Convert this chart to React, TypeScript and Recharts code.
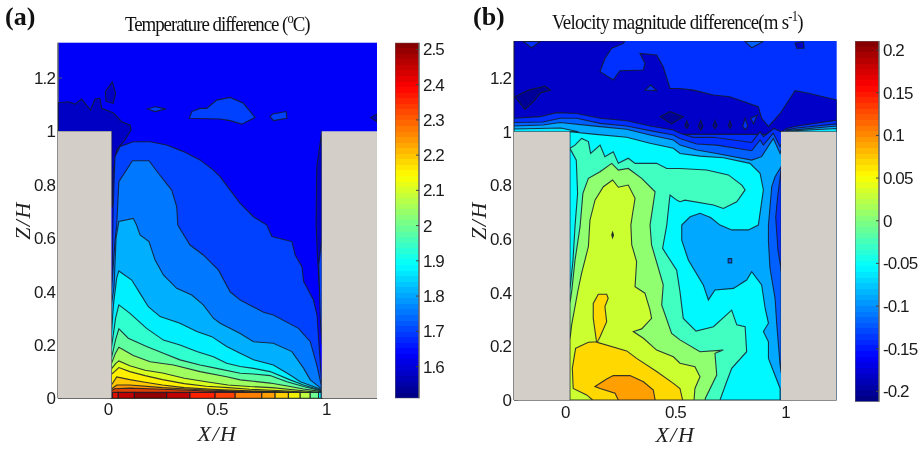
import { Bar, BarChart, Scatter, ScatterChart, XAxis, YAxis } from 'recharts'

type Pt = [number, number]

const X_TICKS = [0, 0.5, 1]
const Z_TICKS = [0, 0.2, 0.4, 0.6, 0.8, 1, 1.2]
const TEMP_TICKS = [1.6, 1.7, 1.8, 1.9, 2, 2.1, 2.2, 2.3, 2.4, 2.5]
const VEL_TICKS = [-0.2, -0.15, -0.1, -0.05, 0, 0.05, 0.1, 0.15, 0.2]
const TEMP_RANGE: Pt = [1.51, 2.519]
const VEL_RANGE: Pt = [-0.212, 0.2106]

// panel (a) contours, temperature difference
const A_LEFT_WALL: Pt[] = [[-0.229, 0], [0.016, 0], [0.016, 1], [-0.229, 1]]
const A_RIGHT_WALL: Pt[] = [[0.98, 0], [1.233, 0], [1.233, 1], [0.98, 1]]
const A_DARK: Pt[] = [[-0.228, 1.107], [-0.182, 1.111], [-0.151, 1.102], [-0.121, 1.121], [-0.08, 1.08], [-0.06, 1.12], [-0.037, 1.124], [-0.029, 1.086], [0.024, 1.07], [0.063, 1.036], [0.101, 1.024], [0.106, 1.005], [0.078, 0.968], [0.04, 0.93], [0.024, 0.843], [0.02, 0.718], [0.017, 0.718], [0.017, 0.999], [-0.228, 0.999]]
const A_BLOB_1: Pt[] = [[-0.012, 1.149], [0.02, 1.186], [0.035, 1.142], [0.024, 1.105], [-0.009, 1.113]]
const A_BLOB_2: Pt[] = [[0.18, 1.084], [0.216, 1.092], [0.265, 1.084], [0.216, 1.074]]
const A_BLOB_3: Pt[] = [[0.373, 1.049], [0.384, 1.074], [0.422, 1.086], [0.453, 1.086], [0.498, 1.117], [0.56, 1.127], [0.621, 1.105], [0.674, 1.052], [0.613, 1.027], [0.56, 1.04], [0.514, 1.046]]
const A_BLOB_4: Pt[] = [[0.743, 1.055], [0.755, 1.065], [0.817, 1.074], [0.82, 1.049], [0.759, 1.04]]
const A_BLOB_5: Pt[] = [[1.205, 1.052], [1.233, 1.064], [1.233, 1.036]]
const A_C1: Pt[] = [[0.016, 0.3], [0.024, 0.718], [0.032, 0.905], [0.055, 0.943], [0.116, 0.961], [0.193, 0.961], [0.269, 0.949], [0.346, 0.924], [0.422, 0.893], [0.483, 0.855], [0.514, 0.83], [0.56, 0.78], [0.606, 0.73], [0.667, 0.68], [0.728, 0.649], [0.751, 0.606], [0.843, 0.587], [0.858, 0.537], [0.889, 0.493], [0.897, 0.437], [0.942, 0.368], [0.958, 0.312], [0.981, 0.037], [0.98, 0], [0.016, 0]]
const A_C2: Pt[] = [[0.016, 0.4], [0.02, 0.45], [0.032, 0.587], [0.04, 0.649], [0.05, 0.811], [0.112, 0.89], [0.188, 0.89], [0.231, 0.843], [0.292, 0.78], [0.315, 0.718], [0.32, 0.649], [0.376, 0.574], [0.437, 0.537], [0.506, 0.481], [0.56, 0.399], [0.606, 0.368], [0.621, 0.362], [0.713, 0.322], [0.758, 0.312], [0.873, 0.262], [0.927, 0.212], [0.957, 0.125], [0.977, 0.05], [0.98, 0], [0.016, 0]]
const A_C3: Pt[] = [[0.016, 0.35], [0.028, 0.42], [0.037, 0.6], [0.05, 0.662], [0.116, 0.674], [0.131, 0.649], [0.147, 0.612], [0.188, 0.587], [0.216, 0.518], [0.254, 0.462], [0.315, 0.412], [0.384, 0.387], [0.437, 0.35], [0.483, 0.3], [0.514, 0.281], [0.606, 0.243], [0.667, 0.212], [0.758, 0.206], [0.843, 0.175], [0.897, 0.112], [0.927, 0.069], [0.977, 0.037], [0.98, 0], [0.016, 0]]
const A_C4: Pt[] = [[0.016, 0.24], [0.025, 0.35], [0.04, 0.45], [0.05, 0.477], [0.109, 0.443], [0.147, 0.393], [0.185, 0.343], [0.239, 0.306], [0.33, 0.281], [0.407, 0.25], [0.476, 0.231], [0.544, 0.194], [0.606, 0.169], [0.667, 0.144], [0.758, 0.125], [0.835, 0.087], [0.881, 0.062], [0.972, 0.035], [0.98, 0], [0.016, 0]]
const A_C5: Pt[] = [[0.016, 0.19], [0.035, 0.3], [0.05, 0.35], [0.101, 0.318], [0.177, 0.262], [0.254, 0.218], [0.33, 0.2], [0.407, 0.175], [0.483, 0.156], [0.544, 0.131], [0.606, 0.119], [0.667, 0.112], [0.743, 0.1], [0.835, 0.069], [0.896, 0.05], [0.972, 0.031], [0.98, 0], [0.016, 0]]
const A_C6: Pt[] = [[0.016, 0.15], [0.035, 0.22], [0.05, 0.26], [0.093, 0.225], [0.177, 0.194], [0.254, 0.169], [0.33, 0.144], [0.422, 0.125], [0.498, 0.112], [0.606, 0.094], [0.667, 0.091], [0.743, 0.085], [0.82, 0.062], [0.896, 0.044], [0.972, 0.029], [0.98, 0], [0.016, 0]]
const A_C7: Pt[] = [[0.016, 0.13], [0.035, 0.17], [0.05, 0.191], [0.116, 0.16], [0.193, 0.137], [0.3, 0.125], [0.422, 0.1], [0.544, 0.081], [0.606, 0.069], [0.743, 0.057], [0.835, 0.044], [0.896, 0.035], [0.972, 0.026], [0.98, 0], [0.016, 0]]
const A_C8: Pt[] = [[0.016, 0.11], [0.035, 0.13], [0.05, 0.14], [0.1, 0.122], [0.17, 0.105], [0.25, 0.095], [0.35, 0.075], [0.45, 0.062], [0.55, 0.05], [0.65, 0.044], [0.75, 0.04], [0.85, 0.032], [0.97, 0.022], [0.98, 0], [0.016, 0]]
const A_C9: Pt[] = [[0.016, 0.09], [0.03, 0.1], [0.05, 0.115], [0.1, 0.1], [0.17, 0.085], [0.25, 0.07], [0.35, 0.055], [0.45, 0.045], [0.55, 0.04], [0.65, 0.034], [0.75, 0.03], [0.85, 0.026], [0.97, 0.018], [0.98, 0], [0.016, 0]]
const A_C10: Pt[] = [[0.016, 0.05], [0.04, 0.08], [0.1, 0.07], [0.17, 0.06], [0.25, 0.05], [0.35, 0.04], [0.5, 0.033], [0.65, 0.028], [0.8, 0.024], [0.97, 0.014], [0.98, 0], [0.016, 0]]
const A_C11: Pt[] = [[0.016, 0.035], [0.04, 0.05], [0.1, 0.05], [0.25, 0.04], [0.4, 0.033], [0.55, 0.028], [0.7, 0.024], [0.85, 0.02], [0.97, 0.01], [0.98, 0], [0.016, 0]]
const A_C12: Pt[] = [[0.016, 0.028], [0.03, 0.036], [0.1, 0.038], [0.25, 0.034], [0.4, 0.029], [0.5, 0.026], [0.62, 0.024], [0.7, 0], [0.016, 0]]
const A_RIGHT_DARK: Pt[] = [[0.98, 1], [0.957, 0.867], [0.954, 0.649], [0.961, 0.52], [0.981, 0.27]]
const A_RIGHT_BAND: Pt[] = [[0.981, 0.6], [0.966, 0.5], [0.973, 0.3], [0.981, 0.2]]
const A_FLOOR_X = [0.021, 0.047, 0.121, 0.269, 0.376, 0.491, 0.583, 0.705, 0.766, 0.827, 0.881, 0.927, 0.965, 0.977]
const A_FLOOR_TOP = 0.022
const A_FLOOR_FILLS = ['#e01000', '#c00000', '#900000', '#c00000', '#ff2000', '#ff4000', '#ff8000', '#ffa000', '#ffd000', '#f0f000', '#c0ff40', '#70ff90', '#00f0ff']

// panel (b) contours, velocity magnitude difference
const B_LEFT_WALL: Pt[] = [[-0.233, 0], [0.02, 0], [0.02, 1], [-0.233, 1]]
const B_RIGHT_WALL: Pt[] = [[0.98, 0], [1.233, 0], [1.233, 1], [0.98, 1]]
const B_DARK: Pt[] = [[-0.233, 1.338], [0.27, 1.338], [0.264, 1.329], [0.211, 1.311], [0.18, 1.273], [0.158, 1.224], [0.218, 1.193], [0.248, 1.227], [0.355, 1.23], [0.362, 1.255], [0.339, 1.292], [0.415, 1.286], [0.445, 1.242], [0.476, 1.161], [0.521, 1.161], [0.582, 1.155], [0.673, 1.137], [0.748, 1.13], [0.877, 1.093], [0.892, 1.05], [0.923, 1.019], [0.976, 1.068], [1.044, 1.153], [1.105, 1.143], [1.233, 1.118], [1.233, 0.99], [-0.233, 0.99]]
const B_TOP_LOBE_1: Pt[] = [[-0.191, 1.336], [-0.153, 1.313], [-0.115, 1.336]]
const B_TOP_LOBE_2: Pt[] = [[0.817, 1.336], [0.847, 1.313], [0.9, 1.336]]
const B_TOP_LOBE_3: Pt[] = [[1.044, 1.33], [1.082, 1.335], [1.085, 1.311], [1.052, 1.311]]
const B_DEEP_1: Pt[] = [[-0.229, 1.13], [-0.168, 1.155], [-0.092, 1.17], [-0.067, 1.155], [-0.115, 1.143], [-0.138, 1.118], [-0.183, 1.083]]
const B_DEEP_2: Pt[] = [[0.43, 1.056], [0.476, 1.075], [0.536, 1.056], [0.483, 1.029]]
const B_TRIANGLE_1: Pt[] = [[0.362, 1.155], [0.388, 1.174], [0.415, 1.153]]
const B_TRIANGLE_2: Pt[] = [[0.842, 1.05], [0.872, 1.062], [0.855, 1.03]]
const B_DROP_1: Pt[] = [[0.552, 1.04], [0.56, 1.022], [0.552, 1.012], [0.544, 1.022]]
const B_DROP_2: Pt[] = [[0.615, 1.042], [0.625, 1.02], [0.615, 1.006], [0.605, 1.02]]
const B_DROP_3: Pt[] = [[0.68, 1.042], [0.689, 1.022], [0.68, 1.012], [0.671, 1.022]]
const B_DROP_4: Pt[] = [[0.748, 1.04], [0.755, 1.022], [0.748, 1.012], [0.741, 1.022]]
const B_DROP_5: Pt[] = [[0.817, 1.05], [0.83, 1.02], [0.817, 1.008], [0.806, 1.02]]
const B_LINE_1: Pt[] = [[-0.233, 1.05], [-0.115, 1.056], [-0.039, 1.071], [0.052, 1.068], [0.158, 1.05], [0.279, 1.041], [0.385, 1.021], [0.491, 1.006], [0.521, 0.994], [0.582, 0.979], [0.673, 0.979], [0.847, 0.96], [0.885, 1], [0.9, 0.981], [0.948, 1.012], [0.981, 0.999], [1.006, 1.012], [1.052, 1.021], [1.233, 1.043], [1.233, 0], [-0.233, 0]]
const B_LINE_2: Pt[] = [[-0.233, 1.034], [-0.1, 1.036], [-0.024, 1.05], [0.052, 1.05], [0.158, 1.031], [0.279, 1.021], [0.385, 1.004], [0.491, 0.988], [0.521, 0.975], [0.597, 0.954], [0.688, 0.95], [0.847, 0.929], [0.885, 0.969], [0.9, 0.95], [0.945, 0.994], [0.976, 0.944], [1.006, 1.006], [1.052, 1.014], [1.233, 1.029], [1.233, 0], [-0.233, 0]]
const B_LINE_3: Pt[] = [[-0.233, 1.021], [-0.1, 1.025], [-0.024, 1.034], [0.158, 1.019], [0.279, 1.009], [0.385, 0.988], [0.491, 0.969], [0.521, 0.95], [0.597, 0.932], [0.688, 0.919], [0.847, 0.894], [0.892, 0.907], [0.945, 0.975], [0.976, 0.919], [1.006, 1.004], [1.233, 1.021], [1.233, 0], [-0.233, 0]]
const B_RIM_LEFT: Pt[] = [[-0.233, 1.01], [-0.02, 1.014], [0.06, 1], [-0.233, 1]]
const B_RIM_RIGHT: Pt[] = [[0.98, 1], [1.05, 1.004], [1.233, 1.012], [1.233, 1]]
const B_CYAN: Pt[] = [[0.021, 1], [0.127, 0.991], [0.279, 0.979], [0.385, 0.957], [0.491, 0.938], [0.521, 0.919], [0.612, 0.909], [0.718, 0.903], [0.839, 0.882], [0.885, 0.845], [0.9, 0.783], [0.877, 0.652], [0.832, 0.634], [0.756, 0.634], [0.703, 0.652], [0.66, 0.68], [0.612, 0.696], [0.567, 0.683], [0.529, 0.652], [0.529, 0.596], [0.559, 0.522], [0.627, 0.429], [0.65, 0.373], [0.68, 0.41], [0.764, 0.416], [0.824, 0.447], [0.847, 0.478], [0.892, 0.429], [0.908, 0.342], [0.923, 0.286], [0.9, 0.255], [0.923, 0.217], [0.923, 0.155], [0.976, 0.043], [0.976, 0], [0.021, 0]]
const B_WALL_1: Pt[] = [[0.981, 0.87], [0.953, 0.832], [0.938, 0.795], [0.923, 0.652], [0.923, 0.59], [0.93, 0.491], [0.953, 0.379], [0.961, 0.28], [0.976, 0.13], [0.981, 0.1]]
const B_WALL_2: Pt[] = [[0.981, 0.86], [0.965, 0.76], [0.956, 0.68], [0.966, 0.56], [0.978, 0.5], [0.981, 0.48]]
const B_TEAL: Pt[] = [[0.021, 0.938], [0.044, 0.95], [0.074, 0.975], [0.105, 0.963], [0.115, 0.919], [0.158, 0.95], [0.18, 0.907], [0.218, 0.925], [0.241, 0.882], [0.286, 0.901], [0.317, 0.882], [0.415, 0.882], [0.461, 0.863], [0.521, 0.863], [0.642, 0.857], [0.741, 0.839], [0.802, 0.801], [0.817, 0.783], [0.779, 0.739], [0.718, 0.714], [0.673, 0.727], [0.544, 0.745], [0.521, 0.739], [0.506, 0.745], [0.476, 0.764], [0.473, 0.745], [0.461, 0.652], [0.442, 0.565], [0.506, 0.484], [0.521, 0.404], [0.536, 0.304], [0.594, 0.257], [0.673, 0.273], [0.756, 0.335], [0.779, 0.28], [0.817, 0.273], [0.824, 0.18], [0.756, 0.118], [0.733, 0.068], [0.703, 0], [0.021, 0], [0.021, 0.41], [0.035, 0.52], [0.044, 0.645], [0.056, 0.77], [0.05, 0.894]]
const B_GREEN: Pt[] = [[0.021, 0.36], [0.03, 0.41], [0.044, 0.52], [0.067, 0.645], [0.08, 0.77], [0.105, 0.826], [0.158, 0.851], [0.211, 0.882], [0.241, 0.857], [0.286, 0.863], [0.347, 0.826], [0.408, 0.776], [0.4, 0.733], [0.385, 0.652], [0.392, 0.578], [0.445, 0.429], [0.438, 0.354], [0.483, 0.248], [0.521, 0.224], [0.612, 0.18], [0.718, 0.186], [0.68, 0.174], [0.688, 0.093], [0.636, 0.006], [0.636, 0], [0.021, 0]]
const B_LIME: Pt[] = [[0.021, 0.224], [0.029, 0.28], [0.058, 0.41], [0.074, 0.472], [0.105, 0.572], [0.112, 0.67], [0.135, 0.745], [0.173, 0.795], [0.215, 0.82], [0.241, 0.793], [0.286, 0.801], [0.317, 0.752], [0.306, 0.696], [0.298, 0.652], [0.302, 0.578], [0.324, 0.516], [0.317, 0.422], [0.362, 0.398], [0.385, 0.335], [0.392, 0.304], [0.347, 0.265], [0.309, 0.255], [0.355, 0.23], [0.415, 0.186], [0.491, 0.161], [0.521, 0.137], [0.589, 0.124], [0.612, 0.087], [0.589, 0.043], [0.585, 0], [0.021, 0]]
const B_GOLD: Pt[] = [[0.047, 0.193], [0.105, 0.215], [0.142, 0.217], [0.127, 0.304], [0.127, 0.36], [0.15, 0.394], [0.188, 0.394], [0.195, 0.379], [0.18, 0.348], [0.188, 0.292], [0.158, 0.236], [0.145, 0.215], [0.279, 0.183], [0.324, 0.155], [0.415, 0.106], [0.491, 0.062], [0.521, 0.043], [0.533, 0], [0.124, 0], [0.097, 0.019], [0.036, 0.043], [0.032, 0.118]]
const B_ORANGE: Pt[] = [[0.135, 0.05], [0.188, 0.078], [0.218, 0.091], [0.294, 0.091], [0.355, 0.068], [0.4, 0.037], [0.408, 0], [0.241, 0], [0.226, 0.025], [0.158, 0.043]]
const B_DOT_1: Pt[] = [[0.215, 0.625], [0.219, 0.615], [0.215, 0.605], [0.211, 0.615]]
const B_DOT_2: Pt[] = [[0.74, 0.527], [0.756, 0.527], [0.756, 0.511], [0.74, 0.511]]

const CONTOUR = '#141b2b'
const GREY = '#d3cfc8'

const A_SHAPES = [
  { points: A_DARK, fill: '#0000c4' },
  { points: A_BLOB_1, fill: '#0000c4' },
  { points: A_BLOB_2, fill: '#0040ff' },
  { points: A_BLOB_3, fill: '#0040ff' },
  { points: A_BLOB_4, fill: '#0040ff' },
  { points: A_BLOB_5, fill: '#0000c4' },
  { points: A_C1, fill: '#0040ff' },
  { points: A_C2, fill: '#0078ff' },
  { points: A_C3, fill: '#00b0ff' },
  { points: A_C4, fill: '#00f0ff' },
  { points: A_C5, fill: '#30ffd0' },
  { points: A_C6, fill: '#60ffa0' },
  { points: A_C7, fill: '#a0ff60' },
  { points: A_C8, fill: '#d8ff20' },
  { points: A_C9, fill: '#fff000' },
  { points: A_C10, fill: '#ffc800' },
  { points: A_C11, fill: '#ff9800' },
  { points: A_C12, fill: '#e04000' },
  { points: A_RIGHT_DARK, fill: '#0000c4' },
  { points: A_RIGHT_BAND, fill: '#0040ff' },
  ...A_FLOOR_FILLS.map((fill, i) => ({
    points: [[A_FLOOR_X[i], 0], [A_FLOOR_X[i + 1], 0], [A_FLOOR_X[i + 1], A_FLOOR_TOP], [A_FLOOR_X[i], A_FLOOR_TOP]] as Pt[],
    fill,
  })),
  { points: A_LEFT_WALL, fill: GREY, plain: true },
  { points: A_RIGHT_WALL, fill: GREY, plain: true },
]

const B_SHAPES = [
  { points: B_DARK, fill: '#0000c8' },
  { points: B_TOP_LOBE_1, fill: '#0030ff' },
  { points: B_TOP_LOBE_2, fill: '#0060ff' },
  { points: B_TOP_LOBE_3, fill: '#0000c8' },
  { points: B_DEEP_1, fill: '#000098' },
  { points: B_DEEP_2, fill: '#000098' },
  { points: B_TRIANGLE_1, fill: '#0030ff' },
  { points: B_TRIANGLE_2, fill: '#0030ff' },
  { points: B_DROP_1, fill: '#000098' },
  { points: B_DROP_2, fill: '#000098' },
  { points: B_DROP_3, fill: '#000098' },
  { points: B_DROP_4, fill: '#000098' },
  { points: B_DROP_5, fill: '#0030ff' },
  { points: B_LINE_1, fill: '#0030ff' },
  { points: B_LINE_2, fill: '#0060ff' },
  { points: B_LINE_3, fill: '#00a8ff' },
  { points: B_RIM_LEFT, fill: '#00e8ff' },
  { points: B_RIM_RIGHT, fill: '#00e8ff' },
  { points: B_CYAN, fill: '#00f8ff' },
  { points: B_WALL_1, fill: '#0060ff' },
  { points: B_WALL_2, fill: '#0030ff' },
  { points: B_TEAL, fill: '#40ffc0' },
  { points: B_GREEN, fill: '#90ff70' },
  { points: B_LIME, fill: '#ccff30' },
  { points: B_GOLD, fill: '#ffd800' },
  { points: B_ORANGE, fill: '#ffa000' },
  { points: B_DOT_1, fill: '#40502a' },
  { points: B_DOT_2, fill: '#0060ff' },
  { points: B_LEFT_WALL, fill: GREY, plain: true },
  { points: B_RIGHT_WALL, fill: GREY, plain: true },
]

const tickFont = { fontFamily: 'Liberation Sans', fontSize: 17, letterSpacing: -0.9, fill: '#1a1a1a' }
const axisLabel = { fontFamily: 'Liberation Serif', fontStyle: 'italic', fontSize: 22, letterSpacing: 1.5, fill: '#222' }
const FRAME = '#666'

function jet(t: number) {
  const ch = (v: number) => Math.round(255 * Math.max(0, Math.min(1, 1.5 - Math.abs(4 * t - v))))
  return `rgb(${ch(3)},${ch(2)},${ch(1)})`
}

const skip = () => <g />

function ContourPanel({ offsetLeft, left, top, right, bottom, domainX, domainZ, shapes, bg, tickGap, labelGap }: any) {
  const width = right + 10
  const height = bottom + 50
  const frame = { axisLine: { stroke: FRAME, strokeWidth: 1.5 }, tickLine: { stroke: '#555' } }
  return (
    <ScatterChart
      width={width}
      height={height}
      margin={{ left: left - 50, right: 10, top, bottom: 20 }}
      style={{ position: 'absolute', left: offsetLeft, top: 0 }}
    >
      <rect x={left} y={top} width={right - left} height={bottom - top} fill={bg} />
      <XAxis type="number" dataKey="x" domain={domainX} ticks={X_TICKS} interval={0} allowDataOverflow height={30} tickSize={-4} tickMargin={tickGap} tick={tickFont} {...frame}
        label={{ value: 'X/H', position: 'bottom', offset: labelGap, style: axisLabel }} />
      <YAxis type="number" dataKey="y" domain={domainZ} ticks={Z_TICKS} interval={0} allowDataOverflow width={50} tickSize={-4} tickMargin={7} tick={tickFont} {...frame}
        label={{ value: 'Z/H', angle: -90, position: 'left', offset: -14, textAnchor: 'middle', style: axisLabel }} />
      {shapes.map((s: any, i: number) => (
        <Scatter
          key={i}
          data={s.points.map(([x, y]: Pt) => ({ x, y }))}
          isAnimationActive={false}
          shape={skip}
          lineJointType="linearClosed"
          line={{ fill: s.fill, stroke: s.plain ? 'none' : CONTOUR, strokeWidth: 1.1, strokeOpacity: 0.85 }}
        />
      ))}
      <XAxis xAxisId="top" orientation="top" type="number" domain={domainX} ticks={X_TICKS} allowDataOverflow height={0} tick={false} tickSize={-4} {...frame} />
      <YAxis yAxisId="right" orientation="right" type="number" domain={domainZ} ticks={Z_TICKS} allowDataOverflow width={0} tick={false} tickSize={-4} {...frame} />
    </ScatterChart>
  )
}

function ColorBar({ id, left, top, bottom, range, ticks }: any) {
  const stops: any[] = []
  for (let i = 0; i < 64; i++) {
    const c = jet((i + 0.5) / 64)
    stops.push(<stop key={`a${i}`} offset={1 - i / 64} stopColor={c} />)
    stops.push(<stop key={`b${i}`} offset={1 - (i + 1) / 64} stopColor={c} />)
  }
  stops.reverse()
  const data = [{ name: 'bar', range }]
  return (
    <BarChart
      width={90}
      height={bottom + 10}
      data={data}
      barCategoryGap={0}
      margin={{ left: 0, right: 0, top, bottom: 10 }}
      style={{ position: 'absolute', left, top: 0 }}
    >
      <defs>
        <linearGradient id={id} x1="0" y1="0" x2="0" y2="1">{stops}</linearGradient>
      </defs>
      <XAxis dataKey="name" hide />
      <YAxis orientation="right" type="number" domain={range} ticks={ticks} interval={0} allowDataOverflow width={66} axisLine={{ stroke: FRAME }} tickLine={{ stroke: '#444' }} tickSize={-3} tickMargin={7} tick={tickFont} />
      <YAxis yAxisId="l" orientation="left" type="number" domain={range} ticks={ticks} interval={0} allowDataOverflow width={0} axisLine={{ stroke: FRAME }} tickLine={{ stroke: '#444' }} tickSize={-3} tick={false} />
      <Bar dataKey="range" fill={`url(#${id})`} stroke={FRAME} strokeWidth={1} isAnimationActive={false} />
    </BarChart>
  )
}

const titleStyle: any = { position: 'absolute', fontFamily: 'Liberation Serif', fontSize: 21, color: '#111', whiteSpace: 'nowrap', lineHeight: '24px', transform: 'scaleX(0.9)', transformOrigin: 'left center' }
const tagStyle: any = { position: 'absolute', fontFamily: 'Liberation Serif', fontWeight: 700, fontSize: 26, color: '#111', lineHeight: '30px' }
const supStyle: any = { fontSize: 14, lineHeight: 0 }

export default function App() {
  return (
    <div style={{ position: 'absolute', left: 0, top: 0, width: 921, height: 449, overflow: 'hidden', background: '#fff', filter: 'blur(0.4px)' }}>
      <ContourPanel offsetLeft={0} left={58} top={42.7} right={377} bottom={398.3} domainX={[-0.229, 1.233]} domainZ={[0, 1.332]} shapes={A_SHAPES} bg="#0000fa" tickGap={9} labelGap={-3} />
      <ColorBar id="jetA" left={395} top={42.7} bottom={398.3} range={TEMP_RANGE} ticks={TEMP_TICKS} />
      <ContourPanel offsetLeft={457} left={57} top={41} right={379.7} bottom={400} domainX={[-0.233, 1.233]} domainZ={[0, 1.338]} shapes={B_SHAPES} bg="#0030ff" tickGap={10} labelGap={-4} />
      <ColorBar id="jetB" left={855.3} top={41} bottom={401.7} range={VEL_RANGE} ticks={VEL_TICKS} />
      <div style={{ ...tagStyle, left: 5, top: 2 }}>(a)</div>
      <div style={{ ...tagStyle, left: 473, top: 2 }}>(b)</div>
      <div style={{ ...titleStyle, left: 125, top: 12, letterSpacing: -1.15 }}>
        Temperature difference (<sup style={supStyle}>o</sup>C)
      </div>
      <div style={{ ...titleStyle, left: 552, top: 10, letterSpacing: -0.85 }}>
        Velocity magnitude difference(m s<sup style={supStyle}>-1</sup>)
      </div>
    </div>
  )
}
